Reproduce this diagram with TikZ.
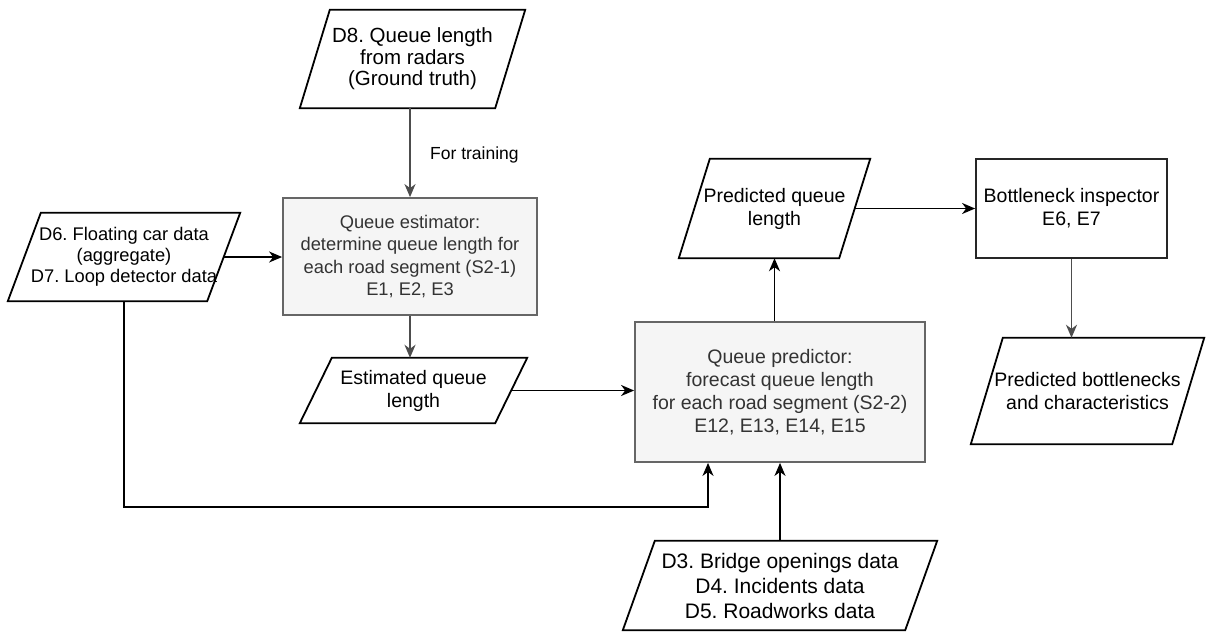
\documentclass[tikz,border=0pt]{standalone}
\usepackage{fontspec}
\setmainfont{Liberation Sans}
\usetikzlibrary{arrows.meta,calc}
\definecolor{procfill}{HTML}{F5F5F5}
\definecolor{procline}{HTML}{666666}
\definecolor{proctext}{HTML}{333333}
\definecolor{softline}{HTML}{4D4D4D}
\frenchspacing
% draws a parallelogram over the box of node #1, slanted by #2
\newcommand\ioshape[2]{%
  \draw[ioline] ($(#1.north west)+(#2,0)$) -- (#1.north east)
    -- ($(#1.south east)+(-#2,0)$) -- (#1.south west) -- cycle;}
\begin{document}
\frenchspacing
\begin{tikzpicture}[x=1pt,y=-1pt,
  fs/.style 2 args={font=\fontsize{#1}{#2}\selectfont},
  base/.style={inner sep=0pt,align=center,text=black,fs={19.5}{23}},
  proc/.style={base,draw=procline,fill=procfill,text=proctext,line width=1.8pt},
  plainbox/.style={base,draw=black!85,line width=1.8pt},
  ioline/.style={draw=black,line width=1.8pt},
  flow/.style={line width=1.8pt,-{Stealth[length=13pt,width=11pt,inset=4pt]}},
  softflow/.style={flow,draw=softline}]
\fill[white] (0,0) rectangle (1206,632);
\useasboundingbox (0,0) rectangle (1206,632);

% data inputs and outputs (parallelograms)
\node[base,fs={20.5}{21.5},minimum width=225pt,minimum height=98pt] (d8) at (412.5,59)
  {D8. Queue length\\from radars\\(Ground truth)};
\node[base,fs={18.3}{21},minimum width=232pt,minimum height=88pt] (d67) at (124,257)
  {D6. Floating car data\\(aggregate)\\D7. Loop detector data};
\node[base,minimum width=227pt,minimum height=65pt] (eql) at (413.5,390.5)
  {Estimated queue\\length};
\node[base,minimum width=191pt,minimum height=99pt] (pql) at (774.5,208.5)
  {Predicted queue\\length};
\node[base,minimum width=233pt,minimum height=106pt] (pbn) at (1087.5,391)
  {Predicted bottlenecks\\and characteristics};
\node[base,fs={21}{25},minimum width=314pt,minimum height=89pt] (d35) at (780,585.5)
  {D3. Bridge openings data\\D4. Incidents data\\D5. Roadworks data};
\ioshape{d8}{30}
\ioshape{d67}{33}
\ioshape{eql}{32}
\ioshape{pql}{31}
\ioshape{pbn}{32}
\ioshape{d35}{32}

% processing steps
\node[proc,fs={18.3}{22.3},minimum width=254pt,minimum height=117pt] (est) at (410,256.5)
  {Queue estimator:\\determine queue length for\\each road segment (S2-1)\\E1, E2, E3};
\node[proc,minimum width=290pt,minimum height=140pt] (pred) at (780,392)
  {Queue predictor:\\forecast queue length\\for each road segment (S2-2)\\E12, E13, E14, E15};
\node[plainbox,minimum width=191pt,minimum height=99pt] (bn) at (1071.5,208.5)
  {Bottleneck inspector\\E6, E7};

% connectors
\draw[softflow] (est.north |- d8.south) -- (est.north);
\node[anchor=west,fs={17.5}{20},inner sep=0pt] (train) at (430,155) {For training};
\draw[flow] ($(d67.east)+(-16.5,0)$) -- (d67.east -| est.west);
\draw[softflow] (est.south) -- (est.south |- eql.north);
\draw[flow] ($(eql.east)+(-16,0)$) -- (eql.east -| pred.west);
\coordinate (bend) at (708,507);
\draw[flow] (d67.south) |- (bend) -- (bend |- pred.south);
\draw[flow] (d35.north) -- (pred.south);
\draw[flow] (pql.south |- pred.north) -- (pql.south);
\draw[flow] ($(pql.east)+(-15.5,0)$) -- (pql.east -| bn.west);
\draw[softflow] (bn.south) -- (bn.south |- pbn.north);
\end{tikzpicture}
\end{document}
